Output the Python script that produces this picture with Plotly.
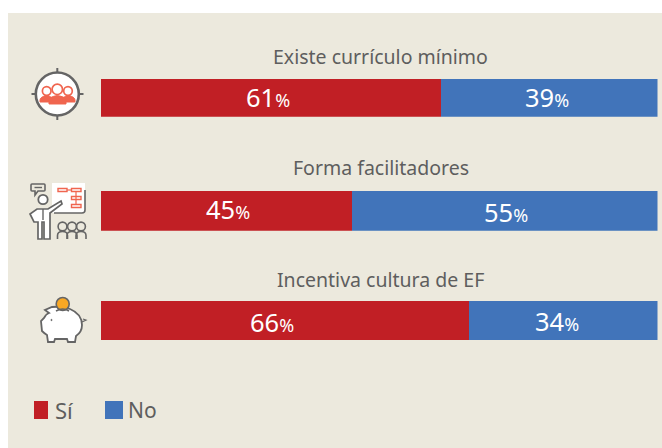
import re
import plotly.graph_objects as go

categories = ["Existe currículo mínimo", "Forma facilitadores", "Incentiva cultura de EF"]
si_values = [61, 45, 66]
no_values = [39, 55, 34]
series_names = ["Sí", "No"]

W, H = 662, 448
RED, BLUE, PANEL = "#C11F25", "#4174BA", "#ECE9DD"
GRAY, CORAL, TXT = "#656565", "#F0654F", "#5E5E5E"
FONT = "Noto Sans"
BAR_X = (100.5, 657.5)
BAR_Y = [(78, 116.8), (190, 230.8), (300.6, 341.3)]
TITLE_Y = [57, 167.5, 279]
SI_SHIFT = [(-2, -1), (2, -2), (-12, 2)]
NO_SHIFT = [(-2, -1), (2, 1), (-6, 1)]

px = lambda v: v / W
py = lambda v: 1 - v / H


def path(d, fill="rgba(0,0,0,0)", color=GRAY, width=2):
    toks = d.split()
    out, i = [], 0
    for t in toks:
        if re.fullmatch(r"[A-Za-z]", t):
            out.append(t)
        else:
            out.append(f"{px(float(t)):.5f}" if i % 2 == 0 else f"{py(float(t)):.5f}")
            i += 1
    s, nums = "", []
    for t in out:
        if t.isalpha():
            if nums:
                s += " ".join(nums) + " "
                nums = []
            s += t + " "
        else:
            nums.append(t)
    s += " ".join(nums)
    return dict(type="path", xref="paper", yref="paper", path=s, fillcolor=fill,
                line=dict(color=color, width=width), layer="above")


def circle(cx, cy, r, fill="#FFFFFF", color=GRAY, width=2):
    return dict(type="circle", xref="paper", yref="paper", x0=px(cx - r), x1=px(cx + r),
                y0=py(cy + r), y1=py(cy - r), fillcolor=fill,
                line=dict(color=color, width=width), layer="above")


def rect(x0, y0, x1, y1, fill, color=None, width=0):
    return dict(type="rect", xref="paper", yref="paper", x0=px(x0), x1=px(x1),
                y0=py(y1), y1=py(y0), fillcolor=fill,
                line=dict(color=color or fill, width=width), layer="above")


def pct(v):
    return f"{v}<span style='font-size:18px'>%</span>"


fig = go.Figure()
annotations = []
for i, cat in enumerate(categories):
    yname = "y" if i == 0 else f"y{i + 1}"
    for name, val, col in ((series_names[0], si_values[i], RED), (series_names[1], no_values[i], BLUE)):
        fig.add_trace(go.Bar(
            x=[val], y=[cat], orientation="h", name=name, xaxis="x", yaxis=yname,
            marker=dict(color=col, line=dict(width=0)),
            showlegend=False, hovertemplate="%{y}: %{x}%<extra>" + name + "</extra>",
        ))
    annotations.append(dict(text=pct(si_values[i]), x=si_values[i] / 2, y=cat, xref="x", yref=yname,
                            xshift=SI_SHIFT[i][0], yshift=-SI_SHIFT[i][1], showarrow=False,
                            font=dict(color="#FFFFFF", size=25.5, family=FONT)))
    annotations.append(dict(text=pct(no_values[i]), x=si_values[i] + no_values[i] / 2, y=cat, xref="x", yref=yname,
                            xshift=NO_SHIFT[i][0], yshift=-NO_SHIFT[i][1], showarrow=False,
                            font=dict(color="#FFFFFF", size=25.5, family=FONT)))

shapes = [dict(type="rect", xref="paper", yref="paper", x0=px(8), x1=1, y0=0, y1=py(13),
               fillcolor=PANEL, line=dict(width=0), layer="below")]

# icon 1: target with people
shapes += [
    path("M 57.3 68 L 57.3 73"), path("M 57.3 115 L 57.3 120"),
    path("M 31.5 94 L 36 94"), path("M 79 94 L 83.5 94"),
    circle(57.3, 94, 21.5, width=2.6),
    path("M 40 102 L 40 100 Q 40 97 46.5 95.5 Q 53 97 53 100 L 53 102 Z", CORAL, CORAL, 1),
    path("M 62 102 L 62 100 Q 62 97 68.5 95.5 Q 75 97 75 100 L 75 102 Z", CORAL, CORAL, 1),
    path("M 49 104 L 49 100 Q 49 97 57.3 95.5 Q 66 97 66 100 L 66 104 Z", CORAL, CORAL, 1),
    circle(46.7, 91, 4.3, color=CORAL, width=1.7),
    circle(68, 91, 4.3, color=CORAL, width=1.7),
    circle(57.3, 89.3, 5.2, color=CORAL, width=1.7),
]

# icon 2: presenter
shapes += [
    rect(52, 183, 85, 213, "#FFFFFF"),
    path("M 85 190 L 85 210 Q 85 213 82 213 L 54 213", color=GRAY, width=1.6),
    rect(58, 188.5, 67, 191.5, "#FFFFFF", CORAL, 1.4),
    rect(71.5, 188.5, 81, 191.5, "#FFFFFF", CORAL, 1.4),
    rect(71.5, 196.5, 81, 199.5, "#FFFFFF", CORAL, 1.4),
    rect(71.5, 204.5, 81, 207.5, "#FFFFFF", CORAL, 1.4),
    path("M 67 190 L 71.5 190", color=CORAL, width=1.2),
    path("M 76 191.5 L 76 204.5", color=CORAL, width=1.2),
    path("M 32 184 L 44 184 Q 45 184 45 185 L 45 190 Q 45 191 44 191 L 38 191 L 35 195 L 35 191 L 32 191 Q 31 191 31 190 L 31 185 Q 31 184 32 184 Z",
         PANEL, GRAY, 1.6),
    path("M 34.5 187.5 L 42 187.5", color=GRAY, width=1.4),
    circle(43, 199.5, 4.7, width=1.8),
    path("M 37 209 L 48 209 L 61 201 L 62 204 L 50 213 L 50 239 L 44 239 L 44 222 L 42 222 L 42 239 L 38 239 L 38 222 L 34 222 L 30 214 Z",
         "#FFFFFF", GRAY, 1.7),
    path("M 43 209 L 43 220", color=GRAY, width=1.4),
]
for cx in (62.5, 72, 81):
    shapes += [
        circle(cx, 226.5, 4.4, fill="rgba(0,0,0,0)", width=1.6),
        path(f"M {cx - 5} 239 L {cx - 5} 235.5 Q {cx - 5} 231.5 {cx} 231.5 Q {cx + 5} 231.5 {cx + 5} 235.5 L {cx + 5} 239",
             width=1.6),
    ]

# icon 3: piggy bank
shapes += [
    path("M 82 322 L 86 320 L 83 319", width=1.2),
    path("M 52 307 Q 62 306 70 309 Q 82 314 82 325 Q 82 332 76 336 L 75 342 L 68 342 L 67 339 L 55 339 L 54 342 L 48 342 L 47 335 Q 44 333 42 331 L 41 321 L 44 318 Q 46 314 49 313 L 45 310 Z",
         "#FFFFFF", GRAY, 1.8),
    circle(51.5, 320, 0.6, fill=GRAY, width=1),
    circle(62.7, 304, 6.5, fill="#F9A825", width=1.6),
    path("M 56 311 Q 63 307 69 311", width=1.6),
]

# legend
shapes += [rect(34, 401, 48, 419, RED), rect(105, 401, 123, 419, BLUE)]

annotations += [
    dict(text=c, x=px(380.5), y=py(y), xref="paper", yref="paper", xanchor="center", yanchor="middle",
         showarrow=False, font=dict(size=19.5, color=TXT, family=FONT))
    for c, y in zip(categories, TITLE_Y)
]
annotations += [
    dict(text=series_names[0], x=px(53), y=py(410), xref="paper", yref="paper", xanchor="left", yanchor="middle",
         showarrow=False, font=dict(size=22, color=TXT, family=FONT)),
    dict(text=series_names[1], x=px(126), y=py(410), xref="paper", yref="paper", xanchor="left", yanchor="middle",
         showarrow=False, font=dict(size=21, color=TXT, family=FONT)),
]

layout = dict(
    width=W, height=H, margin=dict(l=0, r=0, t=0, b=0, autoexpand=False),
    paper_bgcolor="#FFFFFF", plot_bgcolor="rgba(0,0,0,0)",
    barmode="stack", bargap=0, showlegend=False, shapes=shapes, annotations=annotations,
    xaxis=dict(domain=[px(BAR_X[0]), px(BAR_X[1])], range=[0, 100], visible=False, fixedrange=True),
)
for i, (y0, y1) in enumerate(BAR_Y):
    key = "yaxis" if i == 0 else f"yaxis{i + 1}"
    layout[key] = dict(domain=[py(y1), py(y0)], visible=False, type="category",
                       anchor="x", fixedrange=True)
fig.update_layout(**layout)
fig.write_html("out.html", config={"displayModeBar": False},
               post_script="document.body.style.margin='0';document.documentElement.style.overflow='hidden';")
